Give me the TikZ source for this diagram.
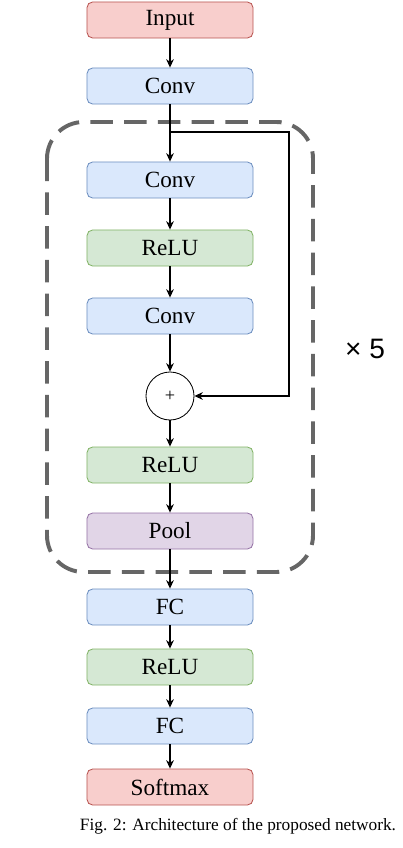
\documentclass[tikz,border=0pt]{standalone}
\usepackage{fontspec}
\setmainfont{Liberation Serif}
\newfontfamily\labelfont{Liberation Sans}
\usepackage{tikz}
\usetikzlibrary{arrows.meta, calc}
\usepackage{xcolor}

\definecolor{blueFill}{HTML}{DAE8FC}
\definecolor{blueLine}{HTML}{6C8EBF}
\definecolor{greenFill}{HTML}{D5E8D4}
\definecolor{greenLine}{HTML}{82B366}
\definecolor{redFill}{HTML}{F8CECC}
\definecolor{redLine}{HTML}{B85450}
\definecolor{purpleFill}{HTML}{E1D5E7}
\definecolor{purpleLine}{HTML}{9673A6}
\definecolor{loopGray}{HTML}{666666}

\begin{document}
\begin{tikzpicture}[x=0.025cm, y=-0.025cm, >={Stealth[length=6pt, width=5.5pt]},
  layer/.style={draw, line width=0.6pt, rounded corners=4pt, minimum width=4.15cm,
    minimum height=0.9cm, inner sep=0pt, font=\fontsize{16.5}{18}\selectfont},
  convbox/.style={layer, fill=blueFill, draw=blueLine},
  relubox/.style={layer, fill=greenFill, draw=greenLine},
  endbox/.style={layer, fill=redFill, draw=redLine},
  poolbox/.style={layer, fill=purpleFill, draw=purpleLine},
  flow/.style={->, line width=0.75pt}]
  \useasboundingbox (0,0) rectangle (402,848);

  % repeated block
  \draw[loopGray, line width=2.8pt, dash pattern=on 16pt off 8pt, rounded corners=26pt]
    (47,122) rectangle (313,572);
  \node[font=\labelfont\fontsize{20}{24}\selectfont] (times) at (365,349) {× 5};

  \node[endbox] (input) at (170,20) {Input};
  \node[convbox] (conv0) at (170,86) {Conv};
  \node[convbox] (conv1) at (170,180) {Conv};
  \node[relubox] (relu1) at (170,248) {ReLU};
  \node[convbox] (conv2) at (170,316) {Conv};
  \node[draw, circle, line width=0.6pt, minimum size=1.2cm, inner sep=0pt,
    font=\fontsize{13}{14}\selectfont] (plus) at (170,396) {+};
  \node[relubox] (relu2) at (170,465) {ReLU};
  \node[poolbox] (pool) at (170,531) {Pool};
  \node[convbox] (fc1) at (170,607) {FC};
  \node[relubox] (relu3) at (170,667) {ReLU};
  \node[convbox] (fc2) at (170,726) {FC};
  \node[endbox] (softmax) at (170,787) {Softmax};

  \draw[flow] (input) -- (conv0);
  \draw[flow] (conv0) -- (conv1);
  \draw[flow] (conv1) -- (relu1);
  \draw[flow] (relu1) -- (conv2);
  \draw[flow] (conv2) -- (plus);
  \draw[flow] (plus) -- (relu2);
  \draw[flow] (relu2) -- (pool);
  \draw[flow] (pool) -- (fc1);
  \draw[flow] (fc1) -- (relu3);
  \draw[flow] (relu3) -- (fc2);
  \draw[flow] (fc2) -- (softmax);

  % skip connection
  \coordinate (split) at (170,132);
  \coordinate (skipTop) at (289,132);
  \draw[flow] (split) -- (skipTop) |- (plus.east);

  \node[font=\fontsize{12.3}{14}\selectfont] (caption) at (238,826)
    {Fig. 2: Architecture of the proposed network.};
\end{tikzpicture}
\end{document}
